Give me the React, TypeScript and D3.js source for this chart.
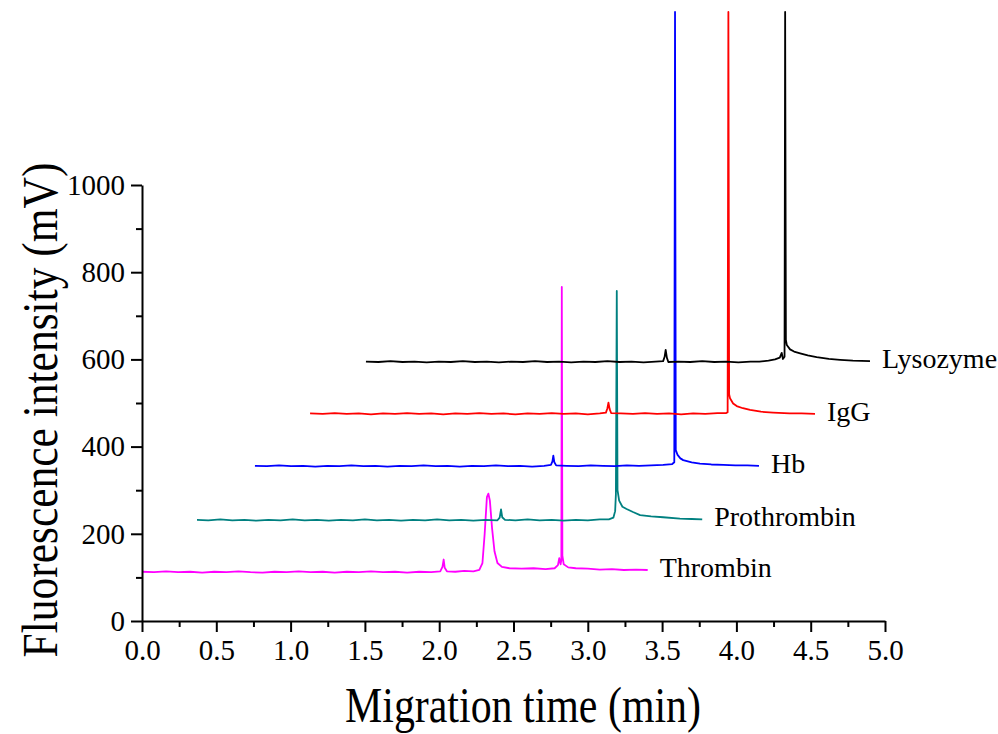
import React, { useEffect, useRef } from "react";
import * as d3 from "d3";

// electropherograms, [migration time (min), intensity (mV)]
const thrombin: [number, number][] = [
  [0.000,113],[0.081,112],[0.162,114],[0.243,112],[0.324,113],[0.405,111],[0.486,113],[0.568,112],[0.649,114],[0.730,112],
  [0.811,111],[0.892,113],[0.973,112],[1.054,114],[1.135,112],[1.216,113],[1.297,111],[1.378,113],[1.459,112],[1.541,114],
  [1.622,112],[1.703,113],[1.784,111],[1.865,113],[1.946,112],[2.007,114],[2.022,124],[2.030,141],[2.037,122],[2.052,114],
  [2.108,113],[2.169,115],[2.230,114],[2.270,117],[2.291,133],[2.306,200],[2.321,284],[2.331,292],[2.341,276],[2.356,212],
  [2.372,160],[2.392,133],[2.422,124],[2.473,121],[2.554,120],[2.635,121],[2.716,119],[2.777,121],[2.799,128],[2.808,144],
  [2.817,130],[2.822,140],[2.825,766],[2.829,150],[2.838,130],[2.868,123],[2.919,121],[3.000,120],[3.081,118],[3.162,119],
  [3.243,117],[3.324,118],[3.403,117],
];

const prothrombin: [number, number][] = [
  [0.370,232],[0.446,231],[0.527,233],[0.608,231],[0.689,232],[0.770,230],[0.851,232],[0.932,231],[1.014,233],[1.095,231],
  [1.176,232],[1.257,230],[1.338,232],[1.419,231],[1.500,233],[1.581,231],[1.662,232],[1.743,230],[1.824,232],[1.905,231],
  [1.986,233],[2.068,231],[2.149,232],[2.230,230],[2.311,232],[2.392,231],[2.407,237],[2.416,256],[2.424,238],[2.443,232],
  [2.513,231],[2.595,233],[2.676,231],[2.757,232],[2.838,230],[2.919,232],[3.000,231],[3.081,233],[3.142,233],[3.172,237],
  [3.184,252],[3.189,290],[3.195,757],[3.200,300],[3.211,276],[3.233,262],[3.261,257],[3.304,250],[3.352,243],[3.426,240],
  [3.507,238],[3.620,235],[3.699,234],[3.770,233],
];

const hb: [number, number][] = [
  [0.760,356],[0.841,355],[0.922,357],[1.003,355],[1.084,356],[1.166,354],[1.247,356],[1.328,355],[1.409,357],[1.490,355],
  [1.571,356],[1.652,354],[1.733,356],[1.814,355],[1.895,357],[1.976,355],[2.057,356],[2.138,354],[2.220,356],[2.301,355],
  [2.382,357],[2.463,355],[2.544,356],[2.625,354],[2.706,356],[2.752,358],[2.762,366],[2.768,379],[2.775,364],[2.787,357],
  [2.858,356],[2.939,355],[3.020,357],[3.101,356],[3.182,355],[3.263,357],[3.345,356],[3.426,357],[3.507,358],[3.568,360],
  [3.582,364],[3.587,1397],[3.592,392],[3.604,381],[3.623,373],[3.642,369],[3.699,364],[3.755,361],[3.831,359],[3.912,358],
  [3.993,357],[4.074,357],[4.152,356],
];

const igg: [number, number][] = [
  [1.131,476],[1.216,475],[1.297,477],[1.378,475],[1.459,476],[1.541,474],[1.622,476],[1.703,475],[1.784,477],[1.865,475],
  [1.946,476],[2.027,474],[2.108,476],[2.189,475],[2.270,477],[2.351,475],[2.432,476],[2.513,474],[2.595,476],[2.676,475],
  [2.757,477],[2.838,475],[2.919,476],[3.000,474],[3.081,476],[3.122,478],[3.132,488],[3.139,501],[3.147,486],[3.157,477],
  [3.223,476],[3.304,475],[3.385,477],[3.466,475],[3.547,476],[3.628,474],[3.709,476],[3.790,475],[3.872,477],[3.932,477],
  [3.941,479],[3.946,1397],[3.951,520],[3.957,511],[3.978,499],[4.002,493],[4.044,488],[4.092,484],[4.165,480],[4.247,478],
  [4.358,476],[4.439,476],[4.529,475],
];

const lysozyme: [number, number][] = [
  [1.507,595],[1.591,594],[1.672,596],[1.753,594],[1.834,595],[1.916,593],[1.997,595],[2.078,594],[2.159,596],[2.240,594],
  [2.321,595],[2.402,593],[2.483,595],[2.564,594],[2.645,596],[2.726,594],[2.807,595],[2.888,593],[2.970,595],[3.051,594],
  [3.132,596],[3.213,594],[3.294,595],[3.375,593],[3.456,595],[3.507,596],[3.517,606],[3.524,622],[3.532,604],[3.542,594],
  [3.608,595],[3.689,594],[3.770,596],[3.851,594],[3.932,595],[4.013,593],[4.095,595],[4.155,595],[4.216,597],[4.260,600],
  [4.292,604],[4.305,615],[4.313,601],[4.324,606],[4.328,1397],[4.333,645],[4.339,633],[4.361,623],[4.388,618],[4.429,614],
  [4.480,609],[4.540,605],[4.622,601],[4.698,599],[4.784,597],[4.899,596],
];

const traceNames = ["Thrombin", "Prothrombin", "Hb", "IgG", "Lysozyme"];
const traces = [thrombin, prothrombin, hb, igg, lysozyme];

const xTicks = [0, 0.5, 1, 1.5, 2, 2.5, 3, 3.5, 4, 4.5, 5];
const xMinor = [0.25, 0.75, 1.25, 1.75, 2.25, 2.75, 3.25, 3.75, 4.25, 4.75];
const yTicks = [0, 200, 400, 600, 800, 1000];
const yMinor = [100, 300, 500, 700, 900];

const colors = ["#ff00ff", "#008080", "#0000ff", "#ff0000", "#000000"];
const FONT = "Liberation Serif, DejaVu Serif, serif";

export default function App() {
  const ref = useRef<SVGSVGElement>(null);

  useEffect(() => {
    const svg = d3.select(ref.current);
    svg.selectAll("*").remove();

    const x = d3.scaleLinear().domain([0, 5]).range([142, 885]);
    const y = d3.scaleLinear().domain([0, 1000]).range([621, 185]);

    const line = d3.line<[number, number]>()
      .x(d => x(d[0]))
      .y(d => y(d[1]));

    // traces
    svg.append("g")
      .selectAll("path")
      .data(traces)
      .enter().append("path")
      .attr("d", d => line(d))
      .attr("fill", "none")
      .attr("stroke", (d, i) => colors[i])
      .attr("stroke-width", 1.8)
      .attr("stroke-linejoin", "round");

    // trace labels
    svg.append("g")
      .selectAll("text")
      .data(traces)
      .enter().append("text")
      .attr("x", d => x(d[d.length - 1][0]) + 12)
      .attr("y", d => y(d[d.length - 1][1]) + 7)
      .style("font-family", FONT)
      .style("font-size", "28px")
      .attr("fill", "#000")
      .text((d, i) => traceNames[i]);

    // axes
    const styleAxis = (g) => {
      g.attr("font-family", null);
      g.selectAll("path, line").attr("stroke", "#000").attr("stroke-width", 2);
      g.selectAll("text").style("font-family", FONT).style("font-size", "29px").attr("fill", "#000");
    };

    svg.append("g")
      .attr("transform", "translate(0,621)")
      .call(d3.axisBottom(x).tickValues(xMinor).tickSize(6).tickSizeOuter(0).tickFormat(() => ""))
      .call(g => g.select(".domain").remove())
      .call(styleAxis);
    svg.append("g")
      .attr("transform", "translate(142,0)")
      .call(d3.axisLeft(y).tickValues(yMinor).tickSize(6).tickSizeOuter(0).tickFormat(() => ""))
      .call(g => g.select(".domain").remove())
      .call(styleAxis);

    svg.append("g")
      .attr("transform", "translate(0,621)")
      .call(d3.axisBottom(x).tickValues(xTicks).tickSize(11).tickSizeOuter(0).tickPadding(7).tickFormat(d3.format(".1f")))
      .call(styleAxis);
    svg.append("g")
      .attr("transform", "translate(142,0)")
      .call(d3.axisLeft(y).tickValues(yTicks).tickSize(11).tickSizeOuter(0).tickPadding(6).tickFormat(d3.format("d")))
      .call(styleAxis);

    // axis titles (glyphs in the figure are a bit condensed)
    svg.append("text")
      .attr("x", 523)
      .attr("y", 722)
      .attr("text-anchor", "middle")
      .style("font-family", FONT)
      .style("font-size", "51px")
      .attr("textLength", 356)
      .attr("lengthAdjust", "spacingAndGlyphs")
      .text("Migration time (min)");

    svg.append("text")
      .attr("transform", "translate(57,410) rotate(-90)")
      .attr("text-anchor", "middle")
      .style("font-family", FONT)
      .style("font-size", "51px")
      .attr("textLength", 495)
      .attr("lengthAdjust", "spacingAndGlyphs")
      .text("Fluorescence intensity (mV)");
  }, []);

  return (
    <svg
      ref={ref}
      width={998}
      height={734}
      style={{ position: "absolute", left: 0, top: 0, background: "#fff" }}
    />
  );
}
